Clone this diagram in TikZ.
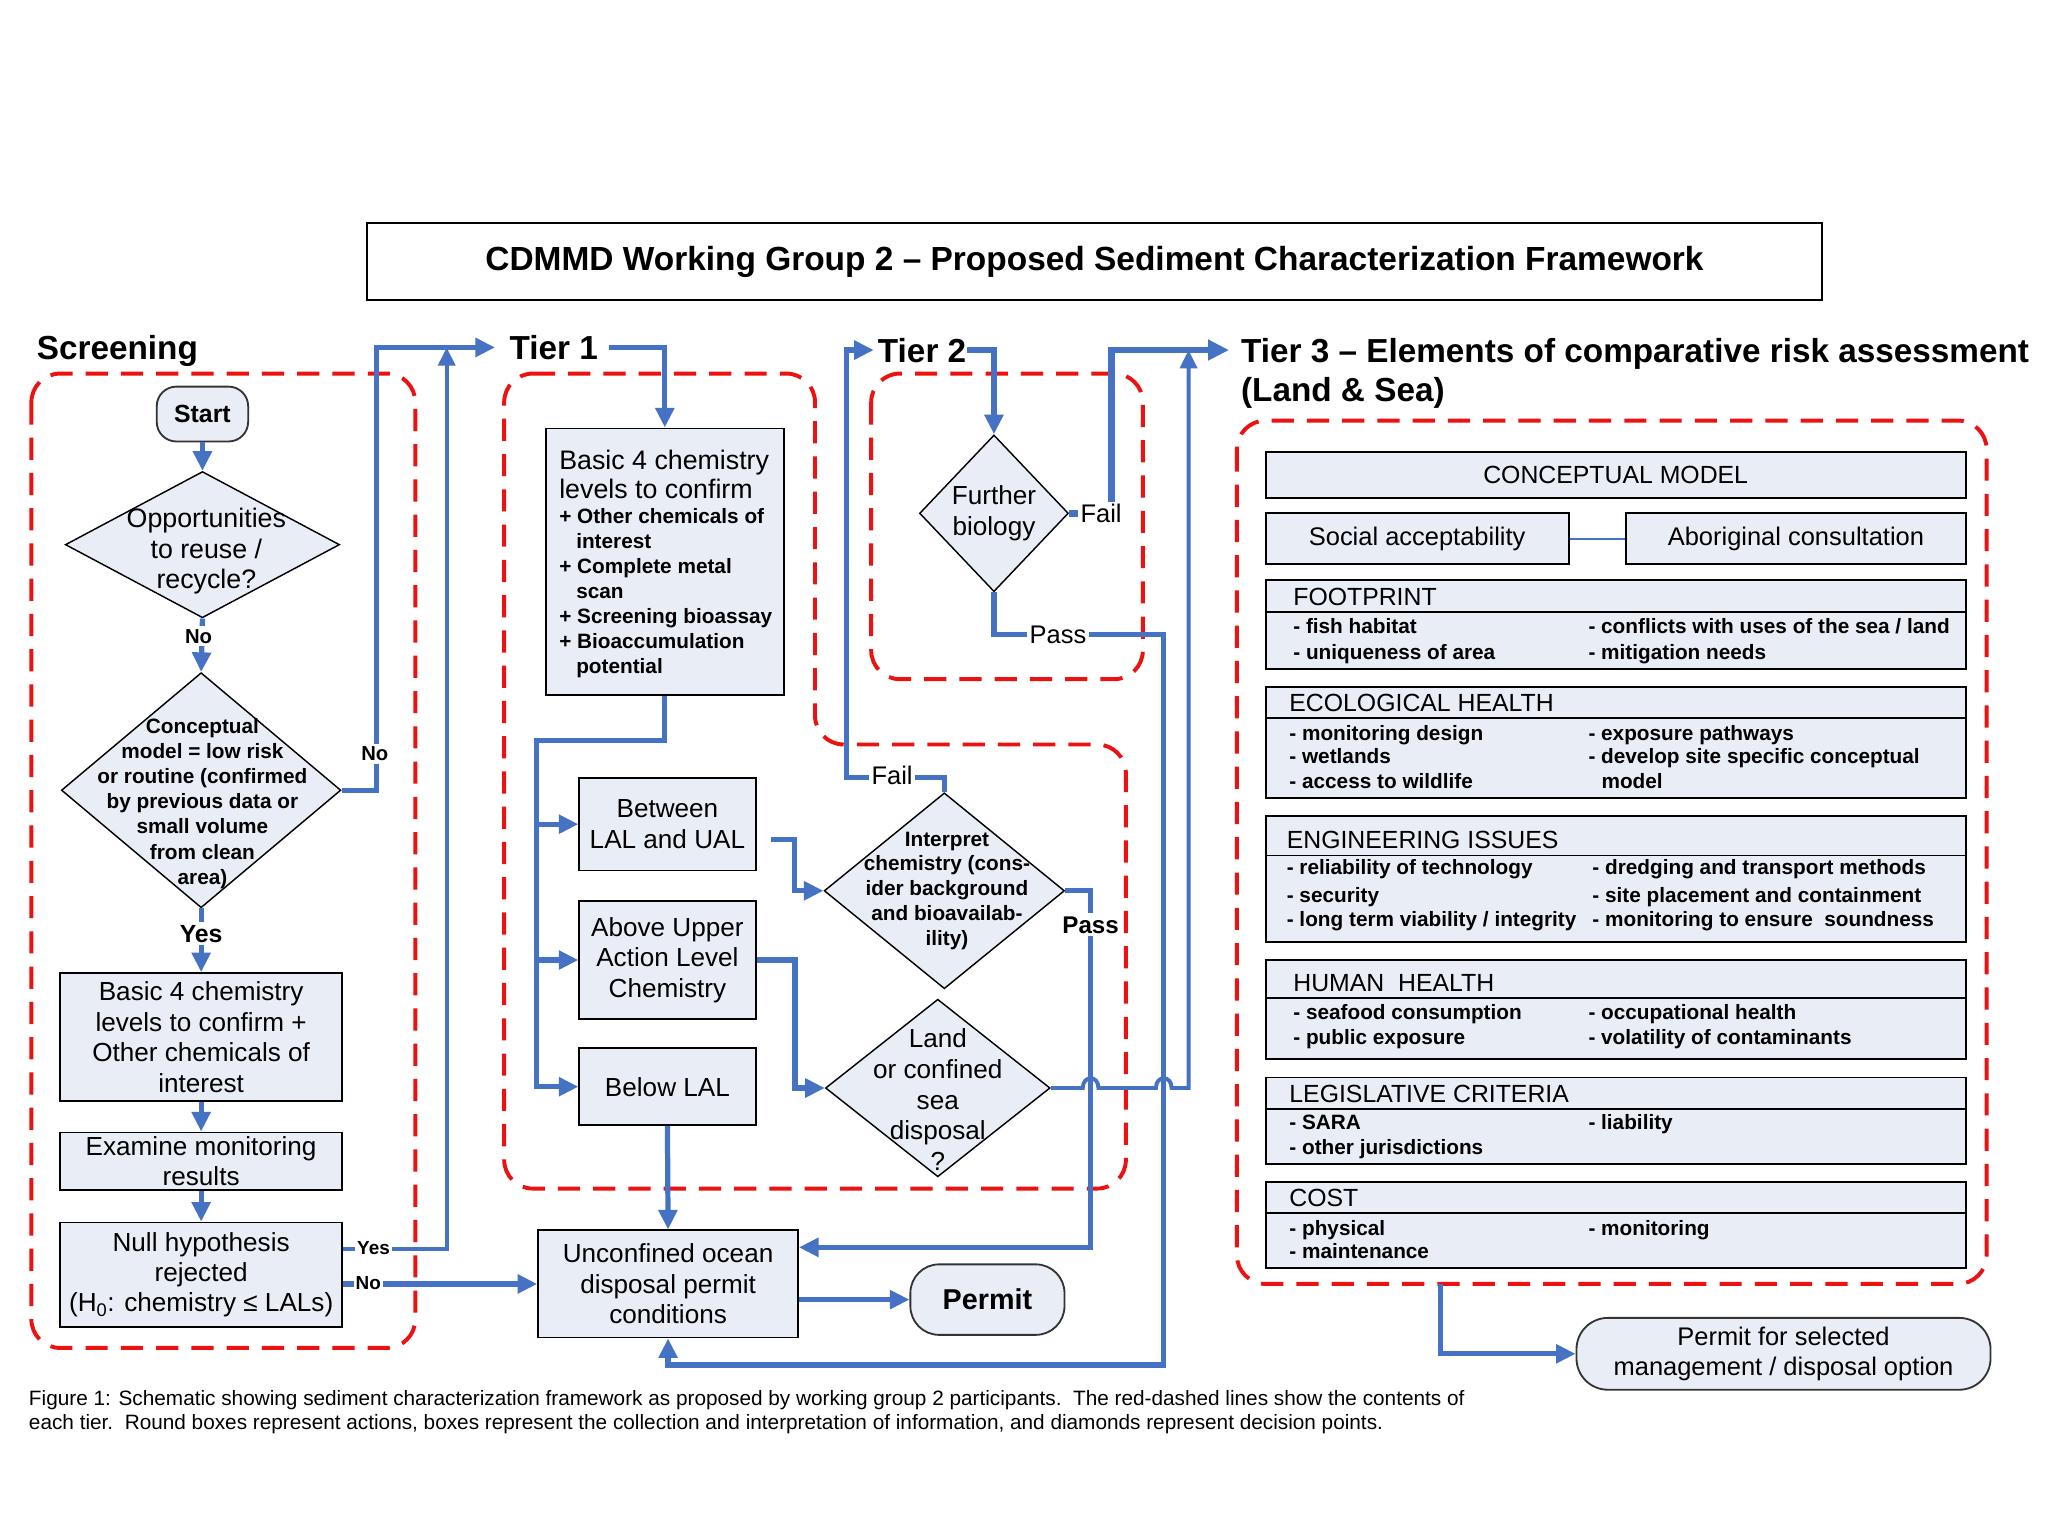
\documentclass[tikz,border=0pt]{standalone}
\usepackage{fontspec}
\setmainfont{Liberation Sans}
\usetikzlibrary{shapes.geometric,arrows.meta}
\definecolor{bfill}{RGB}{233,237,246}
\definecolor{lblue}{RGB}{70,114,196}
\definecolor{dred}{RGB}{236,18,18}
\newcommand{\fsz}[2]{\fontsize{#1}{#2}\selectfont}
\begin{document}
\begin{tikzpicture}[x=1pt,y=-1pt,
  every node/.style={inner sep=0pt},
  box/.style={draw=black,line width=1.4pt,fill=bfill,align=center,font=\fsz{20}{23.3}},
  rbox/.style={box,rounded corners=#1},
  dia/.style={diamond,draw=black,line width=1.1pt,fill=bfill},
  dtxt/.style={align=center},
  hdr/.style={anchor=west,font=\fsz{25.5}{30}\bfseries,text height=18.3pt,text depth=0pt},
  lab/.style={fill=white,inner sep=2pt,font=\fsz{19.5}{22},text height=14pt,text depth=0pt},
  plab/.style={fill=white,inner sep=2pt,font=\fsz{18.5}{22}\bfseries,text height=13.3pt,text depth=0pt},
  nolab/.style={fill=white,inner sep=2pt,font=\fsz{15.5}{18}\bfseries,text height=11.1pt,text depth=0pt},
  yeslab/.style={fill=white,inner sep=2pt,font=\fsz{19}{22}\bfseries,text height=13.7pt,text depth=0pt},
  ynlab/.style={fill=white,inner sep=1.5pt,font=\fsz{14.5}{16}\bfseries,text height=10.4pt,text depth=0pt},
  t1big/.style={anchor=west,font=\fsz{20.5}{23},text height=14.6pt,text depth=0pt},
  t1sm/.style={anchor=west,font=\fsz{15.9}{18}\bfseries,text height=11.4pt,text depth=0pt},
  t3h/.style={anchor=west,font=\fsz{19}{22},text height=13.6pt,text depth=0pt},
  t3i/.style={anchor=west,font=\fsz{15.9}{18}\bfseries,text height=11.4pt,text depth=0pt},
  capt/.style={anchor=west,font=\fsz{15.9}{18},text height=11.4pt,text depth=0pt},
  conn/.style={draw=lblue,line width=4pt,-{Triangle[length=15pt,width=14pt]}},
  thinconn/.style={draw=lblue,line width=3pt,-{Triangle[length=14pt,width=13pt]}},
  tier/.style={draw=dred,line width=3pt,dash pattern=on 17pt off 10pt,rounded corners=22pt},
]
\fill[white] (0,0) rectangle (1568,1176);
\useasboundingbox (0,0) rectangle (1568,1176);

% tier outlines
\draw[tier] (24,286) rectangle (318,1032);
\draw[tier] (386,286) -- (624,286) -- (624,570) -- (862,570) -- (862,910) -- (386,910) -- cycle;
\draw[tier] (667,286) rectangle (875,520);
\draw[tier] (947,322) rectangle (1521,983);

% title and headers
\node[draw=black,line width=1.5pt,fill=white,minimum width=1114pt,minimum height=59pt,font=\fsz{25.6}{29}\bfseries] (title) at (838,200.5) {CDMMD Working Group 2 – Proposed Sediment Characterization Framework};
\node[hdr] (scr) at (28,266) {Screening};
\node[hdr] (tier1) at (390,266) {Tier 1};
\node[hdr] (tier2) at (672,268) {Tier 2};
\node[hdr] (tier3) at (950,268) {Tier 3 – Elements of comparative risk assessment};
\node[hdr] (tier3b) at (950,298) {(Land \& Sea)};

% screening nodes
\node[rbox=15pt,draw=black!80,font=\fsz{19}{22}\bfseries,minimum width=70pt,minimum height=42pt] (start) at (155,317) {Start};
\node[dia,minimum width=210pt,minimum height=112pt] (opp) at (155,417) {};
\node[dtxt,font=\fsz{20.5}{23.3}] (opptxt) at (158,422) {Opportunities\\to reuse /\\recycle?};
\node[dia,minimum width=214pt,minimum height=180pt] (cm) at (154,605) {};
\node[dtxt,font=\fsz{15.9}{19.3}\bfseries] (cmtxt) at (155,615) {Conceptual\\model = low risk\\or routine (confirmed\\by previous data or\\small volume\\from clean\\area)};
\node[box,minimum width=216pt,minimum height=98pt] (b4s) at (154,794) {Basic 4 chemistry\\levels to confirm +\\Other chemicals of\\interest};
\node[box,minimum width=216pt,minimum height=44pt] (exam) at (154,889) {Examine monitoring\\results};
\node[box,minimum width=216pt,minimum height=80pt] (null) at (154,976) {Null hypothesis\\rejected\\(H\textsubscript{0}: chemistry ≤ LALs)};

% tier 1 nodes
\node[box,minimum width=182pt,minimum height=204pt] (t1box) at (509,430) {};
\node[t1big] (t1l1) at (428,352) {Basic 4 chemistry};
\node[t1big] (t1l2) at (428,374) {levels to confirm};
\node[t1sm] (t1s1) at (428,395) {+ Other chemicals of};
\node[t1sm] (t1s2) at (441,414.2) {interest};
\node[t1sm] (t1s3) at (428,433.4) {+ Complete metal};
\node[t1sm] (t1s4) at (441,452.6) {scan};
\node[t1sm] (t1s5) at (428,471.8) {+ Screening bioassay};
\node[t1sm] (t1s6) at (428,491) {+ Bioaccumulation};
\node[t1sm] (t1s7) at (441,510.2) {potential};
\node[box,minimum width=135pt,minimum height=71pt] (betw) at (511,631) {Between\\LAL and UAL};
\node[box,minimum width=135pt,minimum height=90pt] (above) at (511,735) {Above Upper\\Action Level\\Chemistry};
\node[box,minimum width=135pt,minimum height=59pt] (bel) at (511,832) {Below LAL};
\node[box,minimum width=199pt,minimum height=82pt] (uncon) at (511.5,983) {Unconfined ocean\\disposal permit\\conditions};
\node[rbox=22pt,draw=black!80,font=\fsz{22}{25}\bfseries,minimum width=118pt,minimum height=54pt] (permit) at (756,995) {Permit};

% tier 2 nodes
\node[dia,minimum width=114pt,minimum height=120pt] (further) at (761,393) {};
\node[dtxt,font=\fsz{20}{23.5}] (furthertxt) at (761,393) {Further\\biology};
\node[dia,minimum width=184pt,minimum height=150pt] (interp) at (723,682) {};
\node[dtxt,font=\fsz{15.9}{19}\bfseries] (interptxt) at (725,682) {Interpret\\chemistry (cons-\\ider background\\and bioavailab-\\ility)};
\node[dia,minimum width=172pt,minimum height=136pt] (land) at (718,833) {};
\node[dtxt,font=\fsz{20}{23.5}] (landtxt) at (718,842) {Land\\or confined\\sea\\disposal\\?};

% tier 3 nodes
\node[box,minimum width=536pt,minimum height=35pt,font=\fsz{19}{22}] (cmod) at (1237,363.5) {CONCEPTUAL MODEL};
\node[box,minimum width=232pt,minimum height=39pt,font=\fsz{19.5}{22}] (soc) at (1085,412.5) {Social acceptability};
\node[box,minimum width=260pt,minimum height=39pt,font=\fsz{19.5}{22}] (abo) at (1375,412.5) {Aboriginal consultation};
\draw[draw=lblue,line width=1.3pt] (soc.east) -- (abo.west);

\node[box,minimum width=536pt,minimum height=68pt] (fp) at (1237,478) {};
\draw[line width=1.4pt] (fp.west |- 0,468.5) -- (fp.east |- 0,468.5);
\node[t3h] (fph) at (990,457) {FOOTPRINT};
\node[t3i] (fp1) at (990,479) {- fish habitat};
\node[t3i] (fp2) at (990,499) {- uniqueness of area};
\node[t3i] (fp3) at (1216,479) {- conflicts with uses of the sea / land};
\node[t3i] (fp4) at (1216,499) {- mitigation needs};

\node[box,minimum width=536pt,minimum height=85pt] (eco) at (1237,568.5) {};
\draw[line width=1.4pt] (eco.west |- 0,550) -- (eco.east |- 0,550);
\node[t3h] (ecoh) at (987,538) {ECOLOGICAL HEALTH};
\node[t3i] (eco1) at (987,561) {- monitoring design};
\node[t3i] (eco2) at (987,579) {- wetlands};
\node[t3i] (eco3) at (987,598) {- access to wildlife};
\node[t3i] (eco4) at (1216,561) {- exposure pathways};
\node[t3i] (eco5) at (1216,579) {- develop site specific conceptual};
\node[t3i] (eco6) at (1226,598) {model};

\node[box,minimum width=536pt,minimum height=96pt] (eng) at (1237,673) {};
\draw[line width=1.4pt] (eng.west |- 0,655) -- (eng.east |- 0,655);
\node[t3h] (engh) at (985,643) {ENGINEERING ISSUES};
\node[t3i] (eng1) at (985,664) {- reliability of technology};
\node[t3i] (eng2) at (985,685) {- security};
\node[t3i] (eng3) at (985,704) {- long term viability / integrity};
\node[t3i] (eng4) at (1219,664) {- dredging and transport methods};
\node[t3i] (eng5) at (1219,685) {- site placement and containment};
\node[t3i] (eng6) at (1219,704) {- monitoring to ensure\ \ soundness};

\node[box,minimum width=536pt,minimum height=76pt] (hum) at (1237,773) {};
\draw[line width=1.4pt] (hum.west |- 0,764) -- (hum.east |- 0,764);
\node[t3h] (humh) at (990,752) {HUMAN\ \ HEALTH};
\node[t3i] (hum1) at (990,775) {- seafood consumption};
\node[t3i] (hum2) at (990,794) {- public exposure};
\node[t3i] (hum3) at (1216,775) {- occupational health};
\node[t3i] (hum4) at (1216,794) {- volatility of contaminants};

\node[box,minimum width=536pt,minimum height=66pt] (leg) at (1237,858) {};
\draw[line width=1.4pt] (leg.west |- 0,849) -- (leg.east |- 0,849);
\node[t3h] (legh) at (987,837) {LEGISLATIVE CRITERIA};
\node[t3i] (leg1) at (987,859) {- SARA};
\node[t3i] (leg2) at (987,878) {- other jurisdictions};
\node[t3i] (leg3) at (1216,859) {- liability};

\node[box,minimum width=536pt,minimum height=66pt] (cost) at (1237,938) {};
\draw[line width=1.4pt] (cost.west |- 0,929) -- (cost.east |- 0,929);
\node[t3h] (costh) at (987,917) {COST};
\node[t3i] (cost1) at (987,940) {- physical};
\node[t3i] (cost2) at (987,958) {- maintenance};
\node[t3i] (cost3) at (1216,940) {- monitoring};

\node[rbox=24pt,draw=black!80,minimum width=317pt,minimum height=55pt,font=\fsz{19.5}{22.5}] (psel) at (1365.5,1036.5) {Permit for selected\\management / disposal option};

% connectors: screening
\draw[conn] (start.south) -- (opp.north);
\draw[conn] (opp.south) -- (cm.north);
\draw[conn,shorten >=11pt] (cm.east) -- (288,605) -- (288,266) -- (tier1.west);
\draw[conn] (cm.south) -- (b4s.north);
\draw[conn] (b4s.south) -- (exam.north);
\draw[conn] (exam.south) -- (null.north);
\coordinate (m1) at (342,266);
\draw[thinconn] ([yshift=20pt]null.east) -- (342,956) -- (m1);
\draw[conn] ([yshift=-7pt]null.east) -- (uncon.west);

% connectors: tier 1
\draw[conn] ([xshift=8pt]tier1.east) -| (t1box.north);
\coordinate (br) at (411,567);
\draw[conn] (t1box.south) |- (br) |- (bel.west);
\draw[conn] (br |- betw.west) -- (betw.west);
\draw[conn] (br |- above.west) -- (above.west);
\draw[conn] ([xshift=11pt,yshift=-12pt]betw.east) -- ++(18,0) |- (interp.west);
\draw[conn] (above.east) -- ++(29.5,0) |- (land.west);
\draw[conn] (bel.south) -- (uncon.north);
\draw[conn] ([yshift=-12pt]uncon.east) -- (permit.west);

% connectors: tier 2
\draw[conn] (tier2.east) -| (further.north);
\draw[draw=lblue,line width=5pt,-{Triangle[length=16pt,width=15pt]},shorten >=9pt] (further.east) -- (851,393) -- (851,268) -- (tier3.west);
\draw[conn] (further.south) -- (761,486) -- (891,486) -- (891,1045) -| (uncon.south);
\coordinate (m2) at (910,268);
\draw[thinconn] (land.east) -- (829,833) .. controls (829,823) and (841,823) .. (841,833) -- (885,833) .. controls (885,823) and (897,823) .. (897,833) -- (910,833) -- (m2);
\draw[conn,shorten >=3pt] (interp.north) |- (648,595) -- (648,268) -- (tier2.west);
\draw[conn] (interp.east) -- (835,682) -- (835,955) -- ([yshift=28pt]uncon.east);

% connectors: tier 3
\coordinate (t3b) at (1103,983);
\draw[conn] (t3b) |- (psel.west);

% connector labels
\node[nolab] (no1) at (152,487) {No};
\node[nolab] (no2) at (287,577) {No};
\node[yeslab] (yes1) at (154,715) {Yes};
\node[ynlab] (yes2) at (286,955) {Yes};
\node[ynlab] (no3) at (282,982) {No};
\node[lab] (fail1) at (843,393) {Fail};
\node[lab] (pass1) at (810,486) {Pass};
\node[lab] (fail2) at (683,594) {Fail};
\node[plab] (pass2) at (835,708) {Pass};

% caption
\node[capt] (cap1) at (22,1070) {Figure 1: Schematic showing sediment characterization framework as proposed by working group 2 participants.\ \ The red-dashed lines show the contents of};
\node[capt] (cap2) at (22,1089) {each tier.\ \ Round boxes represent actions, boxes represent the collection and interpretation of information, and diamonds represent decision points.};
\end{tikzpicture}
\end{document}
